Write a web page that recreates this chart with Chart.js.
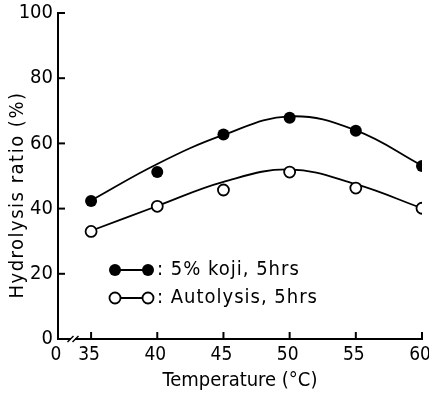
<!DOCTYPE html>
<html>
<head>
<meta charset="utf-8">
<script src="https://cdn.jsdelivr.net/npm/chart.js@4"></script>
<style>
    body { margin: 0; background: #fff; }
    #caixa { width: 429px; height: 397px; }
</style>
</head>
<body>
<div id="caixa"><canvas id="graficoHidrolise"></canvas></div>
<script>
const temperaturas = [35, 40, 45, 50, 55, 60];
const kojiPontos = [42.3, 51.2, 62.7, 67.9, 63.9, 53.1];
const autoPontos = [33.0, 40.7, 45.7, 51.2, 46.3, 40.1];
const kojiCurva = [42.5, 53.7, 62.6, 68.3, 64.0, 53.2];
const autoCurva = [33.2, 40.8, 48.2, 52.0, 47.5, 40.1];
const xTicks = [32.5, 35, 40, 45, 50, 55, 60];
const yTicks = [0, 20, 40, 60, 80, 100];
const legendaTextos = [': 5% koji, 5hrs', ': Autolysis, 5hrs'];

const fonteNum = '"DejaVu Sans Condensed", "DejaVu Sans", sans-serif';
const fonteTxt = '"DejaVu Sans Condensed", "DejaVu Sans", sans-serif';

function pares(xs, ys) {
    return xs.map((x, i) => ({ x: x, y: ys[i] }));
}

// ticks para dentro, quebra do eixo, titulo do y e legenda
const extras = {
    id: 'extras',
    afterDraw(chart) {
        const ctx = chart.ctx;
        const xs = chart.scales.x;
        const ys = chart.scales.y;
        const area = chart.chartArea;
        ctx.save();
        ctx.strokeStyle = '#000';
        ctx.lineWidth = 2;
        yTicks.slice(1).forEach(v => {
            const py = ys.getPixelForValue(v);
            ctx.beginPath();
            ctx.moveTo(area.left, py);
            ctx.lineTo(area.left + 7, py);
            ctx.stroke();
        });
        xTicks.slice(1).forEach(v => {
            const px = xs.getPixelForValue(v);
            ctx.beginPath();
            ctx.moveTo(px, area.bottom);
            ctx.lineTo(px, area.bottom - 7);
            ctx.stroke();
        });

        // quebra //
        const bx = area.left + 15;
        const by = area.bottom;
        ctx.fillStyle = '#fff';
        ctx.fillRect(bx - 2, by - 3, 4, 6);
        ctx.lineWidth = 1.5;
        [-2.5, 2.5].forEach(d => {
            ctx.beginPath();
            ctx.moveTo(bx + d - 3, by + 3);
            ctx.lineTo(bx + d + 3, by - 3);
            ctx.stroke();
        });

        // titulo do eixo y
        ctx.fillStyle = '#000';
        ctx.font = '20px ' + fonteTxt;
        ctx.letterSpacing = '1.5px';
        ctx.textAlign = 'center';
        ctx.textBaseline = 'middle';
        ctx.translate(18, 195);
        ctx.rotate(-Math.PI / 2);
        ctx.fillText('Hydrolysis ratio (%)', 0, 0);
        ctx.restore();

        // legenda
        ctx.save();
        ctx.strokeStyle = '#000';
        ctx.fillStyle = '#000';
        ctx.lineWidth = 1.8;
        const linhas = [270, 298];
        linhas.forEach((ly, i) => {
            ctx.beginPath();
            ctx.moveTo(115, ly);
            ctx.lineTo(148, ly);
            ctx.stroke();
            [115, 148].forEach(mx => {
                ctx.beginPath();
                if (i === 0) {
                    ctx.arc(mx, ly, 6, 0, Math.PI * 2);
                    ctx.fillStyle = '#000';
                    ctx.fill();
                } else {
                    ctx.arc(mx, ly, 5.5, 0, Math.PI * 2);
                    ctx.fillStyle = '#fff';
                    ctx.fill();
                    ctx.stroke();
                }
            });
            ctx.fillStyle = '#000';
            ctx.font = '20px ' + fonteTxt;
            ctx.letterSpacing = '1px';
            ctx.textAlign = 'left';
            ctx.textBaseline = 'middle';
            ctx.fillText(legendaTextos[i], 157, ly);
        });
        ctx.restore();
    }
};

new Chart(document.getElementById('graficoHidrolise'), {
    type: 'line',
    data: {
        datasets: [
            {
                label: '5% koji, 5hrs',
                type: 'scatter',
                data: pares(temperaturas, kojiPontos),
                showLine: false,
                pointRadius: 6,
                pointBackgroundColor: '#000',
                pointBorderColor: '#000',
                pointBorderWidth: 0,
                order: 1
            },
            {
                label: 'Autolysis, 5hrs',
                type: 'scatter',
                data: pares(temperaturas, autoPontos),
                showLine: false,
                pointRadius: 5.5,
                pointBackgroundColor: '#fff',
                pointBorderColor: '#000',
                pointBorderWidth: 1.8,
                order: 1
            },
            {
                label: 'curva koji',
                data: pares(temperaturas, kojiCurva),
                borderColor: '#000',
                borderWidth: 1.8,
                tension: 0.4,
                pointRadius: 0,
                fill: false,
                order: 2
            },
            {
                label: 'curva autolise',
                data: pares(temperaturas, autoCurva),
                borderColor: '#000',
                borderWidth: 1.8,
                tension: 0.4,
                pointRadius: 0,
                fill: false,
                order: 2
            }
        ]
    },
    options: {
        responsive: true,
        maintainAspectRatio: false,
        animation: false,
        layout: {
            autoPadding: false,
            padding: { top: 13, right: 7, left: 0, bottom: 0 }
        },
        plugins: {
            legend: { display: false },
            tooltip: { enabled: false }
        },
        scales: {
            x: {
                type: 'linear',
                min: 32.5,
                max: 60,
                afterBuildTicks: function(scale) {
                    scale.ticks = xTicks.map(v => ({ value: v }));
                },
                afterFit: function(scale) {
                    scale.height = 58;
                    scale.paddingLeft = 0;
                    scale.paddingRight = 0;
                },
                grid: { drawOnChartArea: false, drawTicks: false },
                border: { display: true, color: '#000', width: 2 },
                ticks: {
                    color: '#000',
                    padding: 5,
                    maxRotation: 0,
                    autoSkip: false,
                    labelOffset: -2,
                    font: { family: fonteNum, size: 19 },
                    callback: function(v) {
                        return v === 32.5 ? '0' : v;
                    }
                },
                title: {
                    display: true,
                    text: 'Temperature (°C)',
                    color: '#000',
                    padding: { top: 0, bottom: 4 },
                    font: { family: fonteTxt, size: 20 }
                }
            },
            y: {
                min: 0,
                max: 100,
                afterBuildTicks: function(scale) {
                    scale.ticks = yTicks.map(v => ({ value: v }));
                },
                afterFit: function(scale) {
                    scale.width = 58;
                    scale.paddingTop = 0;
                    scale.paddingBottom = 0;
                },
                grid: { drawOnChartArea: false, drawTicks: false },
                border: { display: true, color: '#000', width: 2 },
                ticks: {
                    color: '#000',
                    padding: 5,
                    font: { family: fonteNum, size: 20 }
                }
            }
        }
    },
    plugins: [extras]
});
</script>
</body>
</html>
